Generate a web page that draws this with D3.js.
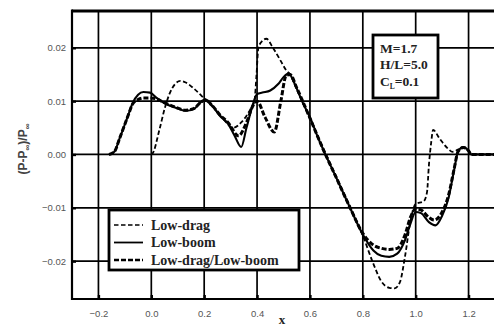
<!DOCTYPE html>
<html>
<head>
<meta charset="utf-8">
<script src="https://cdn.jsdelivr.net/npm/d3@7"></script>
<style>
  body { margin: 0; background: #fff; }
  svg { display: block; }
</style>
</head>
<body>
<div id="chart"></div>
<script>
// data: x, (P-Pinf)/Pinf
const lowDrag = [
  [0.0, 0], [0.005, 0.0002], [0.03, 0.0045], [0.05, 0.0085], [0.07, 0.0115], [0.09, 0.0132],
  [0.11, 0.0138], [0.13, 0.0135], [0.16, 0.0124], [0.19, 0.0110], [0.21, 0.0100], [0.24, 0.0085],
  [0.27, 0.0068], [0.31, 0.0050], [0.34, 0.0060], [0.375, 0.0085], [0.39, 0.0100], [0.398, 0.0150],
  [0.405, 0.0200], [0.42, 0.0213], [0.435, 0.0217], [0.46, 0.0200], [0.49, 0.0175], [0.51, 0.0158],
  [0.525, 0.0150], [0.55, 0.0122], [0.6, 0.0068], [0.65, 0.0012], [0.7, -0.0042], [0.75, -0.0096],
  [0.8, -0.0152], [0.84, -0.0205], [0.87, -0.0238], [0.9, -0.0250], [0.92, -0.0251], [0.94, -0.0240],
  [0.96, -0.0190], [0.98, -0.0125], [1.0, -0.0093], [1.03, -0.0088], [1.043, -0.0070], [1.05, -0.0020],
  [1.058, 0.0020], [1.066, 0.0046], [1.09, 0.0030], [1.12, 0.0012], [1.14, 0.0005], [1.16, 0.0009],
  [1.18, 0.0013], [1.2, 0.0007], [1.21, 0], [1.3, 0]
];

const lowBoom = [
  [-0.16, 0], [-0.14, 0.0005], [-0.12, 0.0030], [-0.09, 0.0070], [-0.07, 0.0097], [-0.05, 0.0112],
  [-0.03, 0.0117], [-0.005, 0.0116], [0.02, 0.0106], [0.05, 0.0096], [0.09, 0.0088], [0.13, 0.0082],
  [0.16, 0.0085], [0.19, 0.0099], [0.205, 0.0103], [0.23, 0.0092], [0.26, 0.0072], [0.29, 0.0058],
  [0.315, 0.0035], [0.34, 0.0014], [0.36, 0.0050], [0.385, 0.0095], [0.4, 0.0113], [0.42, 0.0116],
  [0.45, 0.0120], [0.48, 0.0132], [0.5, 0.0145], [0.52, 0.0152], [0.54, 0.0135], [0.57, 0.0100],
  [0.605, 0.0064], [0.63, 0.0032], [0.655, 0.0004], [0.7, -0.0044], [0.75, -0.0098], [0.8, -0.0150],
  [0.84, -0.0180], [0.87, -0.0190], [0.9, -0.0192], [0.93, -0.0186], [0.96, -0.0160], [0.98, -0.0130],
  [1.0, -0.0108], [1.02, -0.0110], [1.05, -0.0127], [1.075, -0.0133], [1.1, -0.0115], [1.125, -0.0080],
  [1.145, -0.0030], [1.16, 0.0005], [1.18, 0.0014], [1.2, 0.0007], [1.21, 0], [1.3, 0]
];

const lowDragLowBoom = [
  [-0.16, 0], [-0.14, 0.0005], [-0.12, 0.0030], [-0.09, 0.0070], [-0.07, 0.0095], [-0.05, 0.0103],
  [-0.03, 0.0106], [-0.005, 0.0106], [0.02, 0.0104], [0.05, 0.0097], [0.09, 0.0089], [0.13, 0.0083],
  [0.16, 0.0086], [0.19, 0.0099], [0.205, 0.0102], [0.23, 0.0092], [0.26, 0.0074], [0.29, 0.0060],
  [0.33, 0.0035], [0.36, 0.0060], [0.385, 0.0092], [0.4, 0.0100], [0.43, 0.0070], [0.465, 0.0042],
  [0.49, 0.0100], [0.51, 0.0148], [0.525, 0.0150], [0.55, 0.0125], [0.6, 0.0068], [0.655, 0.0004],
  [0.7, -0.0044], [0.75, -0.0098], [0.8, -0.0148], [0.84, -0.0170], [0.87, -0.0176], [0.9, -0.0178],
  [0.93, -0.0176], [0.96, -0.0150], [0.98, -0.0118], [1.0, -0.0102], [1.02, -0.0104], [1.05, -0.0118],
  [1.07, -0.0123], [1.1, -0.0108], [1.125, -0.0075], [1.145, -0.0028], [1.16, 0.0005], [1.18, 0.0013],
  [1.2, 0.0007], [1.21, 0], [1.3, 0]
];

const xTicks = [-0.2, 0.0, 0.2, 0.4, 0.6, 0.8, 1.0, 1.2];
const yTicks = [-0.02, -0.01, 0.0, 0.01, 0.02];
const legendNames = ["Low-drag", "Low-boom", "Low-drag/Low-boom"];
const conditions = ["M=1.7", "H/L=5.0", "C", "=0.1"];

const width = 494, height = 327;
const margin = { top: 11, right: -1, bottom: 28, left: 72 };

const xScale = d3.scaleLinear().domain([-0.3, 1.3]).range([margin.left, width - margin.right]);
const yScale = d3.scaleLinear().domain([-0.0271, 0.0269]).range([height - margin.bottom, margin.top]);

const svg = d3.select("#chart").append("svg")
  .attr("width", width)
  .attr("height", height);

// grid
svg.append("g").selectAll("line.vgrid").data(xTicks)
  .join("line")
  .attr("x1", d => xScale(d)).attr("x2", d => xScale(d))
  .attr("y1", yScale.range()[1]).attr("y2", yScale.range()[0])
  .attr("stroke", "#000").attr("stroke-width", 1.7);

svg.append("g").selectAll("line.hgrid").data(yTicks)
  .join("line")
  .attr("x1", xScale.range()[0]).attr("x2", xScale.range()[1])
  .attr("y1", d => yScale(d)).attr("y2", d => yScale(d))
  .attr("stroke", "#000").attr("stroke-width", 1.7);

// axes with ticks pointing inside
const xAxis = svg.append("g")
  .attr("transform", `translate(0, ${yScale.range()[0]})`)
  .call(d3.axisBottom(xScale).tickValues(xTicks).tickSize(-4).tickPadding(11).tickFormat(d3.format(".1f")));
const yAxis = svg.append("g")
  .attr("transform", `translate(${xScale.range()[0]}, 0)`)
  .call(d3.axisLeft(yScale).tickValues(yTicks).tickSize(-4).tickPadding(6).tickFormat(d3.format(".2f")));

[xAxis, yAxis].forEach(a => {
  a.select(".domain").remove();
  a.selectAll(".tick line").attr("stroke", "#000").attr("stroke-width", 2.4);
  a.selectAll(".tick text")
    .attr("font-family", "Liberation Sans, Arial, sans-serif")
    .attr("font-size", 9.5)
    .attr("fill", "#555");
});

// frame
svg.append("line")
  .attr("x1", xScale.range()[0]).attr("x2", xScale.range()[1])
  .attr("y1", yScale.range()[1]).attr("y2", yScale.range()[1])
  .attr("stroke", "#000").attr("stroke-width", 3.2);
svg.append("line")
  .attr("x1", xScale.range()[0]).attr("x2", xScale.range()[1])
  .attr("y1", yScale.range()[0]).attr("y2", yScale.range()[0])
  .attr("stroke", "#000").attr("stroke-width", 2.2);
svg.append("line")
  .attr("x1", xScale.range()[0]).attr("x2", xScale.range()[0])
  .attr("y1", yScale.range()[1] - 1.5).attr("y2", yScale.range()[0] + 1)
  .attr("stroke", "#000").attr("stroke-width", 2.2);

// curves
const line = d3.line()
  .x(d => xScale(d[0]))
  .y(d => yScale(d[1]))
  .curve(d3.curveMonotoneX);

const styles = [
  { data: lowDrag, width: 1.8, dash: "4.5,2.5" },
  { data: lowBoom, width: 2.1, dash: null },
  { data: lowDragLowBoom, width: 3, dash: "5,2" }
];

styles.forEach(s => {
  svg.append("path")
    .attr("d", line(s.data))
    .attr("fill", "none")
    .attr("stroke", "#000")
    .attr("stroke-width", s.width)
    .attr("stroke-dasharray", s.dash);
});

// conditions box
const cond = svg.append("g").attr("transform", "translate(373, 35)");
cond.append("rect")
  .attr("width", 65).attr("height", 63)
  .attr("fill", "#fff").attr("stroke", "#000").attr("stroke-width", 2.8);
const condText = cond.append("g")
  .attr("font-family", "Liberation Serif, Times New Roman, serif")
  .attr("font-weight", "bold")
  .attr("font-size", 13.5)
  .attr("fill", "#222");
condText.append("text").attr("x", 7).attr("y", 18).text(conditions[0]);
condText.append("text").attr("x", 7).attr("y", 34).text(conditions[1]);
const cl = condText.append("text").attr("x", 7).attr("y", 51);
cl.append("tspan").text(conditions[2]);
cl.append("tspan").attr("font-size", 7.5).attr("dy", 3).text("L");
cl.append("tspan").attr("dy", -3).text(conditions[3]);

// legend
const legend = svg.append("g").attr("transform", "translate(109, 210)");
legend.append("rect")
  .attr("width", 190).attr("height", 60)
  .attr("fill", "#fff").attr("stroke", "#000").attr("stroke-width", 2.8);
legendNames.forEach((name, i) => {
  const yy = 15 + i * 17.5;
  legend.append("line")
    .attr("x1", 5).attr("x2", 34)
    .attr("y1", yy).attr("y2", yy)
    .attr("stroke", "#000")
    .attr("stroke-width", styles[i].width * 0.85)
    .attr("stroke-dasharray", styles[i].dash);
  legend.append("text")
    .attr("x", 42).attr("y", yy + 4.5)
    .attr("font-family", "Liberation Serif, Times New Roman, serif")
    .attr("font-weight", "bold")
    .attr("font-size", 14)
    .attr("fill", "#222")
    .text(name);
});

// axis titles
svg.append("text")
  .attr("x", 282).attr("y", 324)
  .attr("text-anchor", "middle")
  .attr("font-family", "Liberation Serif, Times New Roman, serif")
  .attr("font-weight", "bold")
  .attr("font-size", 13)
  .attr("fill", "#222")
  .text("x");

const yTitle = svg.append("text")
  .attr("transform", "translate(27, 149) rotate(-90)")
  .attr("text-anchor", "middle")
  .attr("font-family", "Liberation Sans, Arial, sans-serif")
  .attr("font-weight", "bold")
  .attr("font-size", 12)
  .attr("fill", "#444");
yTitle.append("tspan").text("(P-P");
yTitle.append("tspan").attr("font-size", 8).attr("dy", 3).text("∞");
yTitle.append("tspan").attr("dy", -3).text(")/P");
yTitle.append("tspan").attr("font-size", 8).attr("dy", 3).text("∞");
</script>
</body>
</html>
